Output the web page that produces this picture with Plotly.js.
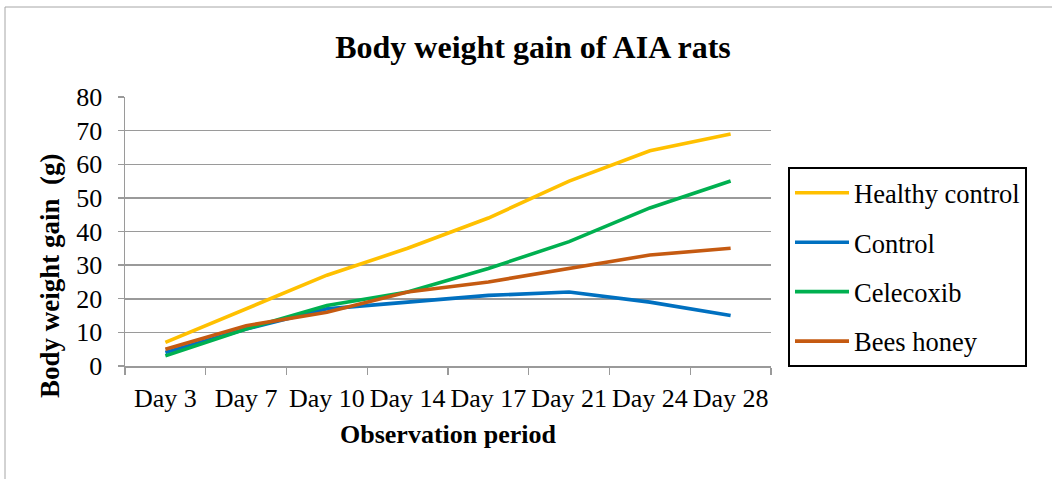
<!DOCTYPE html>
<html>
<head>
<meta charset="utf-8">
<script src="https://cdn.plot.ly/plotly-3.0.1.min.js"></script>
<style>html,body{margin:0;padding:0;background:#fff;}#chart{width:1052px;height:479px;}</style>
</head>
<body>
<div id="chart"></div>
<script>
const days = ["Day 3", "Day 7", "Day 10", "Day 14", "Day 17", "Day 21", "Day 24", "Day 28"];
const healthyControl = [7, 17, 27, 35, 44, 55, 64, 69];
const control = [4, 11, 17, 19, 21, 22, 19, 15];
const celecoxib = [3, 11, 18, 22, 29, 37, 47, 55];
const beesHoney = [5, 12, 16, 22, 25, 29, 33, 35];
const yTicks = [0, 10, 20, 30, 40, 50, 60, 70, 80];

const FONT = "Liberation Serif";
const mk = (name, y, color, g) => ({
  type: "scatter", mode: "lines", name: name, x: days, y: y,
  line: {color: color, width: 3.6}, legendgroup: g
});
const data = [
  mk("Healthy control", healthyControl, "#FFC000", "a"),
  mk("Control", control, "#0070C0", "b"),
  mk("Celecoxib", celecoxib, "#00B050", "c"),
  mk("Bees honey", beesHoney, "#C55A11", "d")
];

const L = 125, R = 771, T = 97, B = 366;
const pw = R - L, ph = B - T;
const px = v => (v - L) / pw;
const py = v => (B - v) / ph;

const layout = {
  width: 1052, height: 479,
  margin: {l: L, r: 1052 - R, t: T, b: 479 - B},
  paper_bgcolor: "#fff", plot_bgcolor: "#fff",
  font: {family: FONT, color: "#000"},
  title: {text: "<b>Body weight gain of AIA rats</b>", font: {family: FONT, size: 32, color: "#000"},
          x: 533 / 1052, xref: "container", xanchor: "center", y: 1 - 47 / 479, yref: "container", yanchor: "middle"},
  xaxis: {
    type: "category", tickson: "boundaries", ticks: "outside", ticklen: 7, tickcolor: "#9A9A9A", tickwidth: 1.3,
    showline: true, linecolor: "#9A9A9A", linewidth: 1.5, showgrid: false, zeroline: false, tickangle: 0,
    tickfont: {family: FONT, size: 26, color: "#000"}, ticklabelstandoff: 8, range: [-0.5, 7.5]
  },
  yaxis: {
    range: [0, 80], tickvals: yTicks, ticktext: yTicks.map(String), ticks: "outside", ticklen: 6,
    tickcolor: "#9A9A9A", tickwidth: 1.3, showline: true, linecolor: "#9A9A9A", linewidth: 1.5,
    showgrid: true, gridcolor: "#9A9A9A", gridwidth: 1.5, zeroline: false,
    tickfont: {family: FONT, size: 26, color: "#000"}, ticklabelstandoff: 10
  },
  showlegend: true,
  legend: {
    x: px(788), y: py(167), xanchor: "left", yanchor: "top", xref: "paper", yref: "paper",
    bordercolor: "#000", borderwidth: 2, bgcolor: "#fff",
    font: {family: FONT, size: 26.5, color: "#000"}, traceorder: "grouped", tracegroupgap: 12,
    itemwidth: 54
  },
  annotations: [
    {text: "<b>Body weight gain  (g)</b>", textangle: -90, xref: "paper", yref: "paper",
     x: px(50), y: py(276), xanchor: "center", yanchor: "middle", showarrow: false,
     font: {family: FONT, size: 27, color: "#000"}},
    {text: "<b>Observation period</b>", xref: "paper", yref: "paper",
     x: px(448), y: py(434), xanchor: "center", yanchor: "middle", showarrow: false,
     font: {family: FONT, size: 26, color: "#000"}}
  ],
  shapes: [
    {type: "rect", xref: "paper", yref: "paper", x0: px(5), x1: px(1070), y0: py(7), y1: py(500),
     line: {color: "#A6A6A6", width: 1}, fillcolor: "rgba(0,0,0,0)", layer: "below"}
  ]
};
Plotly.newPlot("chart", data, layout, {displayModeBar: false, staticPlot: true});
</script>
</body>
</html>
